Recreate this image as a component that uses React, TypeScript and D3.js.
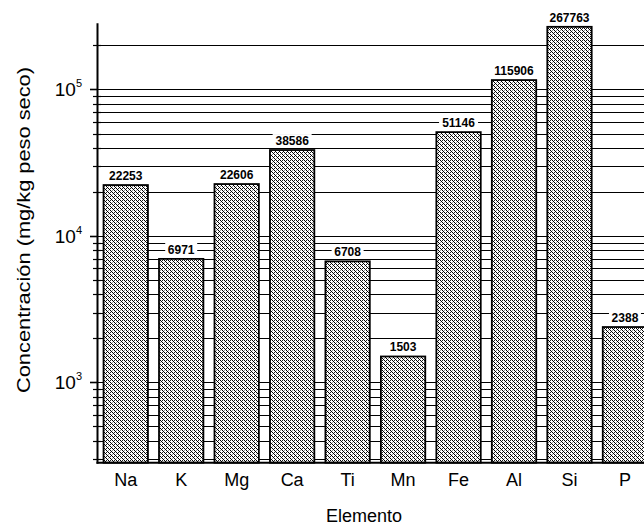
import React from 'react';
import * as d3 from 'd3';

// Element concentrations
const elements = ['Na', 'K', 'Mg', 'Ca', 'Ti', 'Mn', 'Fe', 'Al', 'Si', 'P'];
const concentrations = [22253, 6971, 22606, 38586, 6708, 1503, 51146, 115906, 267763, 2388];
const majorTicks = [1e3, 1e4, 1e5];
const majorLabels = ['3', '4', '5'];

const W = 644;
const H = 531;
const font = 'Liberation Sans, Arial, Helvetica, sans-serif';

const App = () => {
  const plotLeft = 98;
  const step = 55.47;
  const x = d3
    .scaleBand<string>()
    .domain(elements)
    .range([plotLeft, plotLeft + step * elements.length])
    .paddingInner(0.2)
    .paddingOuter(0.1);

  const y = d3.scaleLog().domain([283, 283000]).range([462.7, 23.3]);
  const [yBottom, yTop] = y.range();

  // every 1..9 x 10^k tick gets a gridline
  const allTicks = y.ticks();
  const isMajor = (t: number) => Math.abs(Math.log10(t) - Math.round(Math.log10(t))) < 1e-9;
  const snap = (v: number) => Math.round(v) + 0.5;

  return (
    <svg
      width={W}
      height={H}
      style={{ position: 'fixed', left: 0, top: 0, background: '#fff' }}
      fontFamily={font}
    >
      <defs>
        <pattern id="stipple" width={4} height={4} patternUnits="userSpaceOnUse">
          <rect width={4} height={4} fill="#fff" />
          <rect x={0} y={0} width={1} height={1} fill="#000" />
          <rect x={2} y={0} width={1} height={1} fill="#222" />
          <rect x={1} y={1} width={1} height={1} fill="#000" />
          <rect x={2} y={2} width={1} height={1} fill="#000" />
          <rect x={3} y={3} width={1} height={1} fill="#000" />
          <rect x={0} y={2} width={1} height={1} fill="#999" />
        </pattern>
      </defs>
      <rect width={W} height={H} fill="#fff" />

      {/* gridlines */}
      {allTicks.map((t) => (
        <line
          key={'g' + t}
          x1={plotLeft}
          x2={W}
          y1={snap(y(t))}
          y2={snap(y(t))}
          stroke="#000"
          strokeWidth={1.1}
        />
      ))}

      {/* bars */}
      {elements.map((el, i) => {
        const v = concentrations[i];
        const bx = x(el) ?? 0;
        const by = y(v);
        return (
          <rect
            key={el}
            x={bx}
            y={by}
            width={x.bandwidth()}
            height={yBottom - by}
            fill="url(#stipple)"
            stroke="#000"
            strokeWidth={1.8}
          />
        );
      })}

      {/* value labels */}
      {elements.map((el, i) => {
        const v = concentrations[i];
        const cx = (x(el) ?? 0) + x.bandwidth() / 2;
        const by = y(v);
        const label = String(v);
        const w = label.length * 7 + 4;
        return (
          <g key={'l' + el}>
            <rect x={cx - w / 2} y={by - 16} width={w} height={12} fill="#fff" />
            <text
              x={cx}
              y={by - 5}
              textAnchor="middle"
              fontSize={12}
              fontWeight="bold"
              fill="#000"
            >
              {label}
            </text>
          </g>
        );
      })}

      {/* y axis */}
      <line x1={plotLeft - 0.5} x2={plotLeft - 0.5} y1={yTop} y2={yBottom + 1} stroke="#000" strokeWidth={2} />
      {allTicks.map((t) =>
        isMajor(t) ? (
          <line key={'t' + t} x1={90} x2={plotLeft} y1={snap(y(t))} y2={snap(y(t))} stroke="#000" strokeWidth={1.6} />
        ) : (
          <line key={'t' + t} x1={93} x2={101} y1={snap(y(t))} y2={snap(y(t))} stroke="#000" strokeWidth={1.2} />
        )
      )}
      {majorTicks.map((t, i) => (
        <text key={'yl' + t} x={82} y={y(t) + 7} textAnchor="end" fontSize={19} fill="#000">
          <tspan>10</tspan>
          <tspan dy={-9} fontSize={11}>
            {majorLabels[i]}
          </tspan>
        </text>
      ))}

      {/* x axis */}
      <line x1={plotLeft - 1.5} x2={W} y1={yBottom} y2={yBottom} stroke="#000" strokeWidth={2} />
      {elements.map((el) => (
        <text
          key={'x' + el}
          x={(x(el) ?? 0) + x.bandwidth() / 2}
          y={486}
          textAnchor="middle"
          fontSize={18}
          fill="#000"
        >
          {el}
        </text>
      ))}

      {/* axis titles */}
      <text x={364} y={522} textAnchor="middle" fontSize={18} fill="#000">
        Elemento
      </text>
      <text
        transform="translate(30,230) rotate(-90)"
        textAnchor="middle"
        fontSize={19}
        textLength={326}
        lengthAdjust="spacingAndGlyphs"
        fill="#000"
      >
        Concentración (mg/kg peso seco)
      </text>
    </svg>
  );
};

export default App;
